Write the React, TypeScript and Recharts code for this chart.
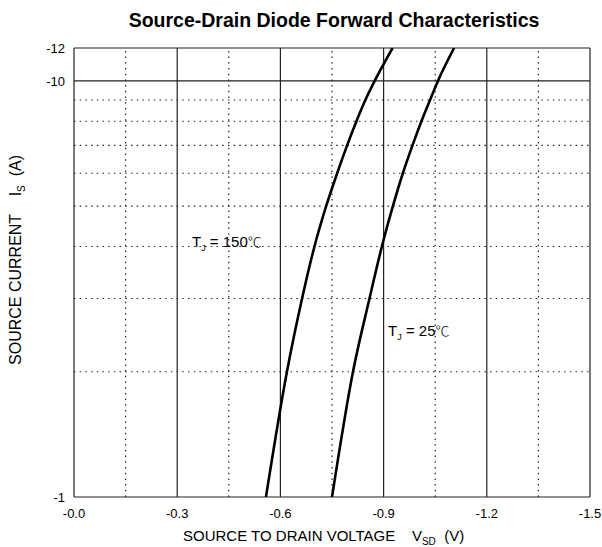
import React from 'react';
import {
  LineChart,
  Line,
  XAxis,
  YAxis,
  ReferenceLine,
  ReferenceDot,
} from 'recharts';

// source current magnitude (A), plotted on a log axis
const currents = [1, 2, 3, 4, 5, 6, 7, 8, 9, 10, 12];
// source-drain voltage magnitude (V) for each current
const volts150 = [0.558, 0.619, 0.663, 0.699, 0.733, 0.765, 0.794, 0.821, 0.847, 0.874, 0.926];
const volts25 = [0.75, 0.811, 0.859, 0.895, 0.927, 0.956, 0.984, 1.01, 1.035, 1.058, 1.105];

const xTicks = [0, 0.3, 0.6, 0.9, 1.2, 1.5];
const yTicks = [1, 10, 12];
const xMinor = [0.15, 0.45, 0.75, 1.05, 1.35];
const yMinor = [2, 3, 4, 5, 6, 7, 8, 9];

const series150 = currents.map((i, k) => ({ v: volts150[k], i }));
const series25 = currents.map((i, k) => ({ v: volts25[k], i }));

const FONT = 'Arial, "Liberation Sans", sans-serif';
const tickStyle = { fill: '#000', fontSize: 13, fontFamily: FONT };
const dotted = { stroke: '#222', strokeWidth: 1.2, strokeDasharray: '1.5 4.2' };
const solid = { stroke: '#222', strokeWidth: 1.2 };

const tempLabel = (main: string) => (p: any) => (
  <text x={p.cx} y={p.cy} fontFamily={FONT} fontSize={15} fill="#000">
    T
    <tspan fontSize={9} dy={4}>J</tspan>
    <tspan dy={-4}>{` = ${main}`}</tspan>
    <tspan fontFamily='"Noto Sans CJK SC", sans-serif' fontSize={14} fontWeight={300}>℃</tspan>
  </text>
);

const App: React.FC = () => (
  <div style={{ position: 'absolute', left: 0, top: 0, width: 602, height: 547, background: '#fff', fontFamily: FONT }}>
    <div
      style={{
        position: 'absolute',
        left: 84,
        width: 500,
        top: 10,
        textAlign: 'center',
        fontSize: 19.5,
        lineHeight: '20px',
        fontWeight: 'bold',
        whiteSpace: 'nowrap',
      }}
    >
      Source-Drain Diode Forward Characteristics
    </div>

    <LineChart width={602} height={547} margin={{ top: 48, right: 12, bottom: 0, left: 0 }}>
      <XAxis
        dataKey="v"
        type="number"
        domain={[0, 1.5]}
        ticks={xTicks}
        tickFormatter={(v: number) => '-' + v.toFixed(1)}
        tick={tickStyle}
        tickLine={false}
        axisLine={false}
        tickMargin={6}
        height={50}
        allowDataOverflow
      />
      <YAxis
        dataKey="i"
        type="number"
        scale="log"
        domain={[1, 12]}
        ticks={yTicks}
        tickFormatter={(v: number) => '-' + v}
        tick={tickStyle}
        tickLine={false}
        axisLine={false}
        tickMargin={3}
        width={74}
        allowDataOverflow
      />

      {xMinor.map((x) => (
        <ReferenceLine key={'xm' + x} x={x} {...dotted} />
      ))}
      {yMinor.map((y) => (
        <ReferenceLine key={'ym' + y} y={y} {...dotted} />
      ))}
      {xTicks.map((x) => (
        <ReferenceLine key={'xs' + x} x={x} {...solid} />
      ))}
      {yTicks.map((y) => (
        <ReferenceLine key={'ys' + y} y={y} {...solid} />
      ))}

      <Line
        data={series150}
        dataKey="i"
        type="monotone"
        stroke="#000"
        strokeWidth={2.6}
        dot={false}
        isAnimationActive={false}
      />
      <Line
        data={series25}
        dataKey="i"
        type="monotone"
        stroke="#000"
        strokeWidth={2.6}
        dot={false}
        isAnimationActive={false}
      />

      <ReferenceDot x={0.343} y={4} r={0} shape={tempLabel('150')} />
      <ReferenceDot x={0.913} y={2.44} r={0} shape={tempLabel('25')} />
    </LineChart>

    <div
      style={{
        position: 'absolute',
        left: 183,
        top: 528,
        fontSize: 15,
        lineHeight: '15px',
        whiteSpace: 'pre',
      }}
    >
      {'SOURCE TO DRAIN VOLTAGE    V'}
      <span style={{ fontSize: 10, position: 'relative', top: 4 }}>SD</span>
      {'  (V)'}
    </div>

    <div
      style={{
        position: 'absolute',
        left: 17,
        top: 260,
        transform: 'translate(-50%, -50%) rotate(-90deg)',
        fontSize: 16,
        lineHeight: '16px',
        whiteSpace: 'pre',
      }}
    >
      {'SOURCE CURRENT    I'}
      <span style={{ fontSize: 10, position: 'relative', top: 4 }}>S</span>
      {'  (A)'}
    </div>
  </div>
);

export default App;
